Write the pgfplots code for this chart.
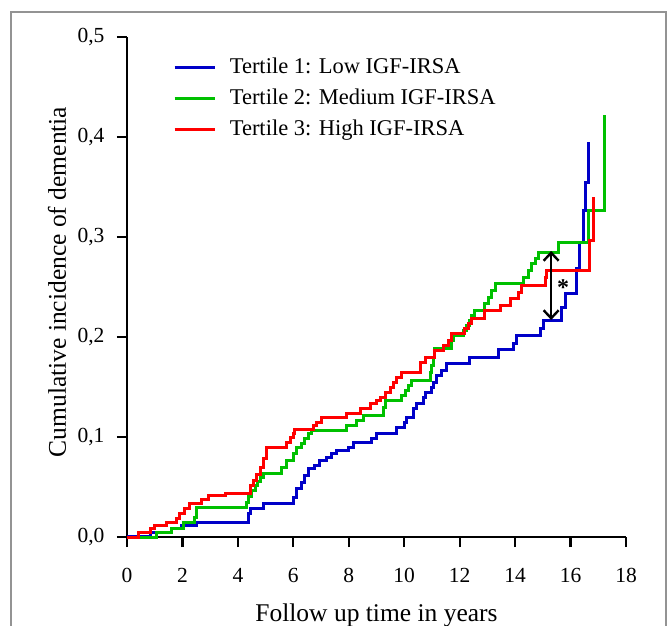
\documentclass[border=0pt]{standalone}
\usepackage{fontspec}
\setmainfont{Liberation Serif}
\usepackage{pgfplots}
\pgfplotsset{compat=1.18}
\usetikzlibrary{arrows.meta}

\definecolor{tBlue}{RGB}{0,0,200}
\definecolor{tGreen}{RGB}{0,192,0}
\definecolor{tRed}{RGB}{255,0,0}

\begin{document}
\begin{tikzpicture}
\useasboundingbox (0,0) rectangle (667pt,-626pt);
\draw[gray!85, line width=1.6pt] (11pt,-12pt) rectangle (666pt,-700pt);
\begin{axis}[
    at={(127pt,-537pt)}, anchor=south west,
    width=499pt, height=500pt, scale only axis,
    xmin=0, xmax=18, ymin=0, ymax=0.5,
    axis x line*=bottom, axis y line*=left,
    axis line style={black, line width=2.5pt},
    xtick={0,2,...,18}, ytick={0,0.1,...,0.5},
    tick align=outside, major tick length=10pt,
    tick style={black, line width=2.2pt},
    /pgf/number format/assume math mode=true,
    every tick label/.append style={font=\fontsize{21.5}{26}\selectfont},
    xticklabel style={yshift=-18pt},
    yticklabel style={xshift=-9pt, /pgf/number format/fixed, /pgf/number format/fixed zerofill,
        /pgf/number format/precision=1, /pgf/number format/use comma},
    xlabel={Follow up time in years},
    ylabel={Cumulative incidence of dementia},
    label style={font=\fontsize{25.5}{30}\selectfont},
    x label style={at={(axis description cs:0.5,-0.156)}, anchor=center},
    y label style={at={(axis description cs:-0.14,0.51)}, anchor=center},
    clip=false,
    legend cell align=left,
    legend style={draw=none, fill=none, at={(axis cs:1.66,0.485)}, anchor=north west,
        inner sep=0pt, column sep=12pt,
        nodes={text height=16pt, text depth=5pt, inner ysep=5pt},
        font=\fontsize{22.5}{27}\selectfont},
    legend image code/.code={\draw[#1, line width=2.6pt] (0pt,0pt) -- (40pt,0pt);},
]
\addplot[tBlue, line width=3pt, const plot] coordinates {
(0,0.001) (0.83,0.005) (1.6,0.009) (1.97,0.012) (2.51,0.015) (4.38,0.024) (4.45,0.029)
(4.92,0.034) (6.0,0.040) (6.12,0.049) (6.30,0.055) (6.42,0.062) (6.54,0.069) (6.78,0.072)
(6.96,0.077) (7.2,0.080) (7.38,0.084) (7.56,0.087) (7.98,0.090) (8.17,0.095) (8.83,0.099)
(9.0,0.104) (9.73,0.110) (10.0,0.115) (10.09,0.120) (10.33,0.129) (10.45,0.134) (10.69,0.140)
(10.75,0.145) (10.99,0.150) (11.05,0.155) (11.17,0.162) (11.35,0.167) (11.53,0.174)
(12.37,0.180) (13.4,0.188) (13.94,0.194) (14.06,0.202) (14.93,0.209) (15.02,0.217)
(15.68,0.230) (15.8,0.244) (16.2,0.269) (16.34,0.295) (16.46,0.327) (16.55,0.355) (16.64,0.395)
};
\addlegendentry{Tertile 1: Low IGF-IRSA}
\addplot[tGreen, line width=3pt, const plot] coordinates {
(0,0) (1.07,0.005) (1.6,0.009) (2.03,0.015) (2.45,0.020) (2.51,0.030) (4.32,0.035)
(4.38,0.041) (4.5,0.047) (4.62,0.052) (4.7,0.056) (4.8,0.060) (4.92,0.064) (5.58,0.070)
(5.76,0.077) (6.0,0.084) (6.12,0.090) (6.30,0.094) (6.42,0.099) (6.54,0.104) (6.66,0.107)
(7.93,0.112) (8.29,0.117) (8.53,0.122) (9.25,0.130) (9.31,0.137) (9.9,0.142) (10.03,0.147)
(10.15,0.152) (10.27,0.157) (10.93,0.165) (10.99,0.172) (11.05,0.180) (11.11,0.189)
(11.71,0.197) (11.78,0.202) (12.13,0.207) (12.25,0.212) (12.37,0.217) (12.43,0.222)
(12.55,0.227) (12.91,0.234) (13.05,0.240) (13.15,0.247) (13.28,0.254) (14.3,0.260)
(14.48,0.267) (14.6,0.274) (14.72,0.279) (14.84,0.285) (15.56,0.295) (16.64,0.327)
(17.24,0.327) (17.24,0.422)
};
\addlegendentry{Tertile 2: Medium IGF-IRSA}
\addplot[tRed, line width=3pt, const plot] coordinates {
(0,0) (0.41,0.005) (0.83,0.009) (1.01,0.012) (1.43,0.015) (1.79,0.019) (1.91,0.024)
(2.09,0.029) (2.27,0.034) (2.69,0.038) (2.93,0.042) (3.54,0.044) (4.44,0.052) (4.56,0.057)
(4.68,0.063) (4.8,0.070) (4.92,0.079) (5.04,0.090) (5.76,0.095) (5.88,0.100) (6.0,0.104)
(6.06,0.108) (6.72,0.112) (6.84,0.115) (7.02,0.120) (7.93,0.124) (8.41,0.129) (8.8,0.134)
(9.0,0.137) (9.13,0.140) (9.31,0.145) (9.49,0.150) (9.61,0.155) (9.73,0.160) (9.9,0.165)
(10.57,0.175) (10.75,0.180) (11.11,0.187) (11.41,0.192) (11.59,0.197) (11.71,0.204)
(12.19,0.209) (12.31,0.214) (12.43,0.219) (12.91,0.227) (13.46,0.232) (13.82,0.239)
(14.12,0.245) (14.24,0.252) (15.08,0.260) (15.14,0.267) (16.7,0.297) (16.82,0.340)
};
\addlegendentry{Tertile 3: High IGF-IRSA}
\draw[{Straight Barb[length=8pt,width=15pt]}-{Straight Barb[length=8pt,width=15pt]}, line width=2.4pt, black]
    (axis cs:15.3,0.286) -- (axis cs:15.3,0.217);
\node[font=\bfseries\fontsize{24}{28}\selectfont, inner sep=0pt] at (axis cs:15.73,0.249) {*};
\end{axis}
\end{tikzpicture}
\end{document}
